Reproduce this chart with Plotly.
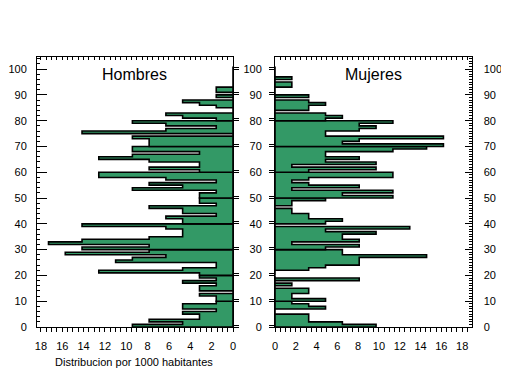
import plotly.graph_objects as go

# ---------------- data (per 1000 inhabitants, by single year of age 0..100) -------------
ages = list(range(101))

hombres = [9.43, 4.72, 7.86, 3.14, 3.14, 4.72, 1.57, 4.72, 4.72, 1.57,
           1.57, 1.57, 3.14, 0.00, 3.14, 3.14, 1.57, 4.72, 1.57, 3.14,
           3.14, 12.58, 4.72, 1.57, 1.57, 11.00, 9.43, 6.29, 15.72, 7.86,
           14.15, 7.86, 17.29, 14.15, 7.86, 4.72, 4.72, 4.72, 6.29, 14.15,
           4.72, 4.72, 6.29, 1.57, 4.72, 4.72, 7.86, 1.57, 3.14, 3.14,
           3.14, 3.14, 1.57, 9.43, 4.72, 7.86, 1.57, 6.29, 12.58, 12.58,
           3.14, 7.86, 3.14, 3.14, 7.86, 12.58, 9.43, 3.14, 9.43, 9.43,
           7.86, 7.86, 7.86, 9.43, 0.00, 14.15, 6.29, 1.57, 6.29, 9.43,
           1.57, 4.72, 6.29, 0.00, 0.00, 1.57, 3.14, 4.72, 0.00, 1.57,
           0.00, 1.57, 1.57, 0.00, 0.00, 0.00, 0.00, 0.00, 0.00, 0.00,
           0.00]

mujeres = [9.72, 6.48, 3.24, 3.24, 3.24, 0.00, 0.00, 4.86, 3.24, 1.62,
           4.86, 1.62, 1.62, 3.24, 3.24, 0.00, 1.62, 0.00, 8.10, 0.00,
           0.00, 0.00, 3.24, 4.86, 8.10, 8.10, 8.10, 14.58, 6.48, 6.48,
           4.86, 8.10, 1.62, 8.10, 6.48, 6.48, 9.72, 4.86, 12.96, 0.00,
           4.86, 6.48, 3.24, 3.24, 1.62, 1.62, 0.00, 1.62, 1.62, 4.86,
           11.34, 6.48, 11.34, 1.62, 8.10, 3.24, 1.62, 3.24, 11.34, 11.34,
           3.24, 9.72, 1.62, 9.72, 4.86, 8.10, 4.86, 4.86, 11.34, 14.58,
           16.20, 6.48, 8.10, 16.20, 4.86, 4.86, 8.10, 9.72, 8.10, 11.34,
           4.86, 6.48, 4.86, 0.00, 3.24, 3.24, 4.86, 3.24, 0.00, 3.24,
           0.00, 0.00, 0.00, 1.62, 1.62, 0.00, 1.62, 0.00, 0.00, 0.00,
           0.00]

x_ticks = [0, 2, 4, 6, 8, 10, 12, 14, 16, 18]
y_ticks = [0, 10, 20, 30, 40, 50, 60, 70, 80, 90, 100]
panel_titles = ["Hombres", "Mujeres"]
x_title = "Distribucion por 1000 habitantes"

# ---------------- styling ---------------------------------------------------------------
OFF = 8            # page body margin
W, H = 501, 368    # figure size (page is 509 x 376 incl. body margin)
GREEN = "#339966"
FONT = "Liberation Sans, Arial, sans-serif"
LW = 1.6


def px(x):
    return (x - OFF) / W


def py(y):
    return 1 - (y - OFF) / H


L_DOM = [px(37), px(233)]
R_DOM = [px(275), px(471.5)]
Y_DOM = [py(327), py(57)]
Y_RANGE = [0, 104.7]
L_RANGE = [18.37, 0]
R_RANGE = [0, 18.9]


def decade_polygons(values):
    """One closed step polygon per decade of ages (built from the data)."""
    polys = []
    n = len(values)
    for d in range(0, n, 10):
        top = min(d + 10, n)
        xs, ys = [0], [d]
        for a in range(d, top):
            xs += [values[a], values[a]]
            ys += [ages[a], ages[a] + 1]
        xs += [0, 0]
        ys += [ys[-1], d]
        polys.append((xs, ys))
    return polys


fig = go.Figure()

for vals, xa, ya in [(hombres, "x", "y"), (mujeres, "x2", "y2")]:
    for xs, ys in decade_polygons(vals):
        fig.add_trace(go.Scatter(
            x=xs, y=ys, xaxis=xa, yaxis=ya, mode="lines", fill="toself",
            fillcolor=GREEN, line=dict(color="black", width=LW),
            hoverinfo="skip", showlegend=False))

# invisible anchors so that overlay axes are drawn
for xa, ya in [("x3", "y3"), ("x4", "y4"), ("x3", "y5"), ("x4", "y6")]:
    fig.add_trace(go.Scatter(x=[1], y=[1], xaxis=xa, yaxis=ya, mode="markers",
                             marker=dict(opacity=0), hoverinfo="skip",
                             showlegend=False))

tickfont = dict(family=FONT, size=11, color="black")
common_line = dict(showline=True, linecolor="black", linewidth=1,
                   showgrid=False, zeroline=False, tickcolor="black",
                   automargin=False)

# bottom x axes (labels, outward ticks)
for name, dom, rng, anchor in [("xaxis", L_DOM, L_RANGE, "y"),
                               ("xaxis2", R_DOM, R_RANGE, "y2")]:
    fig.layout[name] = dict(
        domain=dom, range=rng, anchor=anchor, tickmode="array",
        tickvals=x_ticks, ticktext=[str(v) for v in x_ticks],
        ticks="outside", ticklen=4, tickwidth=1, tickfont=tickfont,
        ticklabelstandoff=5,
        minor=dict(dtick=0.5, tick0=0, ticks="outside", ticklen=4,
                   tickcolor="black", tickwidth=1, showgrid=False),
        **common_line)

# top x axes (inward ticks, no labels)
for name, over, rng, anchor in [("xaxis3", "x", L_RANGE, "y"),
                                ("xaxis4", "x2", R_RANGE, "y2")]:
    fig.layout[name] = dict(
        overlaying=over, side="top", anchor=anchor, range=rng,
        tickmode="linear", tick0=0, dtick=0.5, ticks="inside", ticklen=3,
        tickwidth=1, showticklabels=False, **common_line)

ytext = [str(v) for v in y_ticks]

# left panel: left axis (labels, inward ticks)
fig.layout["yaxis"] = dict(
    domain=Y_DOM, range=Y_RANGE, anchor="x", side="left",
    tickmode="array", tickvals=y_ticks, ticktext=ytext,
    ticks="inside", ticklen=10, tickwidth=1, tickfont=tickfont,
    ticklabelstandoff=7,
    minor=dict(dtick=2, tick0=0, ticks="inside", ticklen=3,
               tickcolor="black", tickwidth=1, showgrid=False),
    **common_line)
# left panel: right axis (outward double ticks)
fig.layout["yaxis3"] = dict(
    overlaying="y", anchor="x", side="right", range=Y_RANGE,
    tickmode="array", tickvals=y_ticks, ticks="outside", ticklen=5,
    tickwidth=1, showticklabels=False, **common_line)
fig.layout["yaxis5"] = dict(
    overlaying="y", anchor="x", side="right", range=Y_RANGE,
    tickmode="array", tickvals=[v + 0.75 for v in y_ticks], ticks="outside",
    ticklen=5, tickwidth=1, showticklabels=False, showline=False,
    showgrid=False, zeroline=False, tickcolor="black", automargin=False)

# right panel: left axis (labels, outward double ticks)
fig.layout["yaxis2"] = dict(
    domain=Y_DOM, range=Y_RANGE, anchor="x2", side="left",
    tickmode="array", tickvals=y_ticks, ticktext=ytext,
    ticks="outside", ticklen=5, tickwidth=1, tickfont=tickfont,
    ticklabelstandoff=5, **common_line)
fig.layout["yaxis6"] = dict(
    overlaying="y2", anchor="x2", side="left", range=Y_RANGE,
    tickmode="array", tickvals=[v + 0.75 for v in y_ticks], ticks="outside",
    ticklen=5, tickwidth=1, showticklabels=False, showline=False,
    showgrid=False, zeroline=False, tickcolor="black", automargin=False)
# right panel: right axis (labels, inward ticks every year)
fig.layout["yaxis4"] = dict(
    overlaying="y2", anchor="x2", side="right", range=Y_RANGE,
    tickmode="array", tickvals=y_ticks, ticktext=ytext,
    ticks="inside", ticklen=7, tickwidth=1, tickfont=tickfont,
    ticklabelstandoff=9,
    minor=dict(dtick=1, tick0=0, ticks="inside", ticklen=3,
               tickcolor="black", tickwidth=1, showgrid=False),
    **common_line)

annotations = [
    dict(text=panel_titles[0], x=px(135), y=py(75), xref="paper",
         yref="paper", showarrow=False, xanchor="center", yanchor="middle",
         font=dict(family=FONT, size=16, color="black")),
    dict(text=panel_titles[1], x=px(373), y=py(75), xref="paper",
         yref="paper", showarrow=False, xanchor="center", yanchor="middle",
         font=dict(family=FONT, size=16, color="black")),
    dict(text=x_title, x=px(134), y=py(362), xref="paper", yref="paper",
         showarrow=False, xanchor="center", yanchor="middle",
         font=dict(family=FONT, size=11, color="black")),
]

fig.update_layout(
    width=W, height=H, margin=dict(l=0, r=0, t=0, b=0),
    paper_bgcolor="white", plot_bgcolor="white",
    showlegend=False, annotations=annotations,
)

fig.write_html("out.html")
